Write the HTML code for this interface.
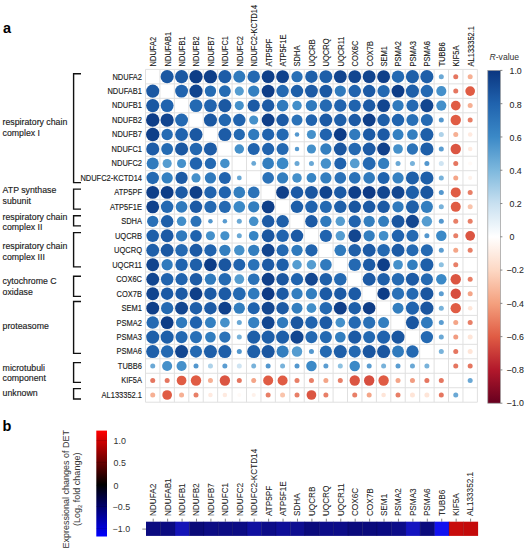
<!DOCTYPE html><html><head><meta charset="utf-8"><style>html,body{margin:0;padding:0;background:#fff;}svg{display:block;}text{font-family:"Liberation Sans", sans-serif;}</style></head><body>
<svg width="527" height="550" viewBox="0 0 527 550">
<rect width="527" height="550" fill="#fff"/>
<text x="3" y="32.5" font-size="14.5" font-weight="bold" fill="#000">a</text>
<g font-size="7.5" fill="#1a1a1a" stroke="#1a1a1a" stroke-width="0.1">
<text transform="translate(156.12,66.4) rotate(-90) scale(1,1.1)">NDUFA2</text>
<text transform="translate(170.55,66.4) rotate(-90) scale(1,1.1)">NDUFAB1</text>
<text transform="translate(184.97,66.4) rotate(-90) scale(1,1.1)">NDUFB1</text>
<text transform="translate(199.41,66.4) rotate(-90) scale(1,1.1)">NDUFB2</text>
<text transform="translate(213.84,66.4) rotate(-90) scale(1,1.1)">NDUFB7</text>
<text transform="translate(228.27,66.4) rotate(-90) scale(1,1.1)">NDUFC1</text>
<text transform="translate(242.70,66.4) rotate(-90) scale(1,1.1)">NDUFC2</text>
<text transform="translate(257.12,66.4) rotate(-90) scale(1,1.1)">NDUFC2-KCTD14</text>
<text transform="translate(271.55,66.4) rotate(-90) scale(1,1.1)">ATP5PF</text>
<text transform="translate(285.99,66.4) rotate(-90) scale(1,1.1)">ATP5F1E</text>
<text transform="translate(300.41,66.4) rotate(-90) scale(1,1.1)">SDHA</text>
<text transform="translate(314.84,66.4) rotate(-90) scale(1,1.1)">UQCRB</text>
<text transform="translate(329.27,66.4) rotate(-90) scale(1,1.1)">UQCRQ</text>
<text transform="translate(343.70,66.4) rotate(-90) scale(1,1.1)">UQCR11</text>
<text transform="translate(358.13,66.4) rotate(-90) scale(1,1.1)">COX6C</text>
<text transform="translate(372.56,66.4) rotate(-90) scale(1,1.1)">COX7B</text>
<text transform="translate(387.00,66.4) rotate(-90) scale(1,1.1)">SEM1</text>
<text transform="translate(401.42,66.4) rotate(-90) scale(1,1.1)">PSMA2</text>
<text transform="translate(415.85,66.4) rotate(-90) scale(1,1.1)">PSMA3</text>
<text transform="translate(430.28,66.4) rotate(-90) scale(1,1.1)">PSMA6</text>
<text transform="translate(444.71,66.4) rotate(-90) scale(1,1.1)">TUBB6</text>
<text transform="translate(459.14,66.4) rotate(-90) scale(1,1.1)">KIF5A</text>
<text transform="translate(473.57,66.4) rotate(-90) scale(1,1.1)">AL133352.1</text>
</g>
<g font-size="7.5" fill="#1a1a1a" stroke="#1a1a1a" stroke-width="0.12" text-anchor="end">
<text transform="translate(142,79.54) scale(1,1.1)">NDUFA2</text>
<text transform="translate(142,94.01) scale(1,1.1)">NDUFAB1</text>
<text transform="translate(142,108.48) scale(1,1.1)">NDUFB1</text>
<text transform="translate(142,122.95) scale(1,1.1)">NDUFB2</text>
<text transform="translate(142,137.42) scale(1,1.1)">NDUFB7</text>
<text transform="translate(142,151.89) scale(1,1.1)">NDUFC1</text>
<text transform="translate(142,166.36) scale(1,1.1)">NDUFC2</text>
<text transform="translate(142,180.83) scale(1,1.1)">NDUFC2-KCTD14</text>
<text transform="translate(142,195.30) scale(1,1.1)">ATP5PF</text>
<text transform="translate(142,209.77) scale(1,1.1)">ATP5F1E</text>
<text transform="translate(142,224.24) scale(1,1.1)">SDHA</text>
<text transform="translate(142,238.71) scale(1,1.1)">UQCRB</text>
<text transform="translate(142,253.18) scale(1,1.1)">UQCRQ</text>
<text transform="translate(142,267.64) scale(1,1.1)">UQCR11</text>
<text transform="translate(142,282.12) scale(1,1.1)">COX6C</text>
<text transform="translate(142,296.58) scale(1,1.1)">COX7B</text>
<text transform="translate(142,311.06) scale(1,1.1)">SEM1</text>
<text transform="translate(142,325.52) scale(1,1.1)">PSMA2</text>
<text transform="translate(142,340.00) scale(1,1.1)">PSMA3</text>
<text transform="translate(142,354.47) scale(1,1.1)">PSMA6</text>
<text transform="translate(142,368.93) scale(1,1.1)">TUBB6</text>
<text transform="translate(142,383.40) scale(1,1.1)">KIF5A</text>
<text transform="translate(142,397.88) scale(1,1.1)">AL133352.1</text>
</g>
<g stroke="#e0e0e0" stroke-width="1">
<line x1="145.50" y1="69.40" x2="145.50" y2="402.21"/>
<line x1="145.50" y1="69.40" x2="477.39" y2="69.40"/>
<line x1="159.93" y1="69.40" x2="159.93" y2="402.21"/>
<line x1="145.50" y1="83.87" x2="477.39" y2="83.87"/>
<line x1="174.36" y1="69.40" x2="174.36" y2="402.21"/>
<line x1="145.50" y1="98.34" x2="477.39" y2="98.34"/>
<line x1="188.79" y1="69.40" x2="188.79" y2="402.21"/>
<line x1="145.50" y1="112.81" x2="477.39" y2="112.81"/>
<line x1="203.22" y1="69.40" x2="203.22" y2="402.21"/>
<line x1="145.50" y1="127.28" x2="477.39" y2="127.28"/>
<line x1="217.65" y1="69.40" x2="217.65" y2="402.21"/>
<line x1="145.50" y1="141.75" x2="477.39" y2="141.75"/>
<line x1="232.08" y1="69.40" x2="232.08" y2="402.21"/>
<line x1="145.50" y1="156.22" x2="477.39" y2="156.22"/>
<line x1="246.51" y1="69.40" x2="246.51" y2="402.21"/>
<line x1="145.50" y1="170.69" x2="477.39" y2="170.69"/>
<line x1="260.94" y1="69.40" x2="260.94" y2="402.21"/>
<line x1="145.50" y1="185.16" x2="477.39" y2="185.16"/>
<line x1="275.37" y1="69.40" x2="275.37" y2="402.21"/>
<line x1="145.50" y1="199.63" x2="477.39" y2="199.63"/>
<line x1="289.80" y1="69.40" x2="289.80" y2="402.21"/>
<line x1="145.50" y1="214.10" x2="477.39" y2="214.10"/>
<line x1="304.23" y1="69.40" x2="304.23" y2="402.21"/>
<line x1="145.50" y1="228.57" x2="477.39" y2="228.57"/>
<line x1="318.66" y1="69.40" x2="318.66" y2="402.21"/>
<line x1="145.50" y1="243.04" x2="477.39" y2="243.04"/>
<line x1="333.09" y1="69.40" x2="333.09" y2="402.21"/>
<line x1="145.50" y1="257.51" x2="477.39" y2="257.51"/>
<line x1="347.52" y1="69.40" x2="347.52" y2="402.21"/>
<line x1="145.50" y1="271.98" x2="477.39" y2="271.98"/>
<line x1="361.95" y1="69.40" x2="361.95" y2="402.21"/>
<line x1="145.50" y1="286.45" x2="477.39" y2="286.45"/>
<line x1="376.38" y1="69.40" x2="376.38" y2="402.21"/>
<line x1="145.50" y1="300.92" x2="477.39" y2="300.92"/>
<line x1="390.81" y1="69.40" x2="390.81" y2="402.21"/>
<line x1="145.50" y1="315.39" x2="477.39" y2="315.39"/>
<line x1="405.24" y1="69.40" x2="405.24" y2="402.21"/>
<line x1="145.50" y1="329.86" x2="477.39" y2="329.86"/>
<line x1="419.67" y1="69.40" x2="419.67" y2="402.21"/>
<line x1="145.50" y1="344.33" x2="477.39" y2="344.33"/>
<line x1="434.10" y1="69.40" x2="434.10" y2="402.21"/>
<line x1="145.50" y1="358.80" x2="477.39" y2="358.80"/>
<line x1="448.53" y1="69.40" x2="448.53" y2="402.21"/>
<line x1="145.50" y1="373.27" x2="477.39" y2="373.27"/>
<line x1="462.96" y1="69.40" x2="462.96" y2="402.21"/>
<line x1="145.50" y1="387.74" x2="477.39" y2="387.74"/>
<line x1="477.39" y1="69.40" x2="477.39" y2="402.21"/>
<line x1="145.50" y1="402.21" x2="477.39" y2="402.21"/>
</g>
<g>
<circle cx="167.15" cy="76.64" r="6.55" fill="#1b58a2"/>
<circle cx="181.57" cy="76.64" r="6.55" fill="#1b58a2"/>
<circle cx="196.00" cy="76.64" r="6.70" fill="#0e3d87"/>
<circle cx="210.44" cy="76.64" r="6.70" fill="#0f3f89"/>
<circle cx="224.87" cy="76.64" r="6.55" fill="#1d5ca7"/>
<circle cx="239.30" cy="76.64" r="6.03" fill="#307abd"/>
<circle cx="253.72" cy="76.64" r="6.25" fill="#2469b2"/>
<circle cx="268.15" cy="76.64" r="6.44" fill="#0f3f89"/>
<circle cx="282.59" cy="76.64" r="6.44" fill="#10418c"/>
<circle cx="297.01" cy="76.64" r="5.65" fill="#2970b7"/>
<circle cx="311.44" cy="76.64" r="6.25" fill="#1e5fa9"/>
<circle cx="325.88" cy="76.64" r="6.44" fill="#1e5fa9"/>
<circle cx="340.31" cy="76.64" r="6.44" fill="#11448e"/>
<circle cx="354.74" cy="76.64" r="6.44" fill="#124690"/>
<circle cx="369.16" cy="76.64" r="6.44" fill="#11448e"/>
<circle cx="383.60" cy="76.64" r="6.44" fill="#0f3f89"/>
<circle cx="398.02" cy="76.64" r="6.25" fill="#2469b2"/>
<circle cx="412.45" cy="76.64" r="6.55" fill="#1e5fa9"/>
<circle cx="426.88" cy="76.64" r="6.55" fill="#1e5fa9"/>
<circle cx="441.31" cy="76.64" r="2.50" fill="#6aa8d5"/>
<circle cx="455.75" cy="76.64" r="2.50" fill="#e57660"/>
<circle cx="470.18" cy="76.64" r="2.50" fill="#f6b094"/>
<circle cx="152.72" cy="91.11" r="6.55" fill="#1b58a2"/>
<circle cx="181.57" cy="91.11" r="6.44" fill="#2063ae"/>
<circle cx="196.00" cy="91.11" r="6.62" fill="#11448e"/>
<circle cx="210.44" cy="91.11" r="5.69" fill="#256bb3"/>
<circle cx="224.87" cy="91.11" r="5.95" fill="#256bb3"/>
<circle cx="239.30" cy="91.11" r="4.56" fill="#559cd0"/>
<circle cx="253.72" cy="91.11" r="5.65" fill="#3480c1"/>
<circle cx="268.15" cy="91.11" r="6.44" fill="#0e3d87"/>
<circle cx="282.59" cy="91.11" r="6.25" fill="#2469b2"/>
<circle cx="297.01" cy="91.11" r="6.25" fill="#1e5fa9"/>
<circle cx="311.44" cy="91.11" r="6.44" fill="#1c5aa5"/>
<circle cx="325.88" cy="91.11" r="6.44" fill="#1b58a2"/>
<circle cx="340.31" cy="91.11" r="5.65" fill="#307abd"/>
<circle cx="354.74" cy="91.11" r="6.25" fill="#2063ae"/>
<circle cx="369.16" cy="91.11" r="6.25" fill="#1c5aa5"/>
<circle cx="383.60" cy="91.11" r="6.14" fill="#2469b2"/>
<circle cx="398.02" cy="91.11" r="6.44" fill="#0e3d87"/>
<circle cx="412.45" cy="91.11" r="6.55" fill="#1e5fa9"/>
<circle cx="426.88" cy="91.11" r="6.25" fill="#2469b2"/>
<circle cx="441.31" cy="91.11" r="5.05" fill="#4590ca"/>
<circle cx="455.75" cy="91.11" r="2.50" fill="#e57660"/>
<circle cx="470.18" cy="91.11" r="4.85" fill="#e05c44"/>
<circle cx="152.72" cy="105.58" r="6.55" fill="#1b58a2"/>
<circle cx="167.15" cy="105.58" r="6.44" fill="#2063ae"/>
<circle cx="196.00" cy="105.58" r="6.44" fill="#2469b2"/>
<circle cx="210.44" cy="105.58" r="6.44" fill="#2063ae"/>
<circle cx="224.87" cy="105.58" r="6.55" fill="#1b58a2"/>
<circle cx="239.30" cy="105.58" r="4.56" fill="#4590ca"/>
<circle cx="253.72" cy="105.58" r="6.14" fill="#1c5aa5"/>
<circle cx="268.15" cy="105.58" r="6.25" fill="#1c5aa5"/>
<circle cx="282.59" cy="105.58" r="5.84" fill="#307abd"/>
<circle cx="297.01" cy="105.58" r="4.75" fill="#428ec9"/>
<circle cx="311.44" cy="105.58" r="5.65" fill="#307abd"/>
<circle cx="325.88" cy="105.58" r="6.25" fill="#2469b2"/>
<circle cx="340.31" cy="105.58" r="6.25" fill="#2063ae"/>
<circle cx="354.74" cy="105.58" r="6.14" fill="#2063ae"/>
<circle cx="369.16" cy="105.58" r="6.25" fill="#1c5aa5"/>
<circle cx="383.60" cy="105.58" r="6.44" fill="#124690"/>
<circle cx="398.02" cy="105.58" r="5.65" fill="#307abd"/>
<circle cx="412.45" cy="105.58" r="6.06" fill="#2469b2"/>
<circle cx="426.88" cy="105.58" r="6.55" fill="#124690"/>
<circle cx="441.31" cy="105.58" r="5.05" fill="#4590ca"/>
<circle cx="455.75" cy="105.58" r="4.85" fill="#e05c44"/>
<circle cx="470.18" cy="105.58" r="2.50" fill="#f6b094"/>
<circle cx="152.72" cy="120.05" r="6.70" fill="#0e3d87"/>
<circle cx="167.15" cy="120.05" r="6.62" fill="#11448e"/>
<circle cx="181.57" cy="120.05" r="6.44" fill="#2469b2"/>
<circle cx="210.44" cy="120.05" r="6.55" fill="#1b58a2"/>
<circle cx="224.87" cy="120.05" r="6.25" fill="#2367b0"/>
<circle cx="239.30" cy="120.05" r="6.25" fill="#2063ae"/>
<circle cx="253.72" cy="120.05" r="4.56" fill="#4590ca"/>
<circle cx="268.15" cy="120.05" r="6.44" fill="#0f3f89"/>
<circle cx="282.59" cy="120.05" r="6.25" fill="#1c5aa5"/>
<circle cx="297.01" cy="120.05" r="5.50" fill="#2b72b8"/>
<circle cx="311.44" cy="120.05" r="5.84" fill="#2063ae"/>
<circle cx="325.88" cy="120.05" r="6.44" fill="#1c5aa5"/>
<circle cx="340.31" cy="120.05" r="6.25" fill="#1e5fa9"/>
<circle cx="354.74" cy="120.05" r="6.25" fill="#1c5aa5"/>
<circle cx="369.16" cy="120.05" r="6.44" fill="#0f3f89"/>
<circle cx="383.60" cy="120.05" r="6.25" fill="#1e5fa9"/>
<circle cx="398.02" cy="120.05" r="6.25" fill="#2063ae"/>
<circle cx="412.45" cy="120.05" r="6.06" fill="#2970b7"/>
<circle cx="426.88" cy="120.05" r="6.06" fill="#2469b2"/>
<circle cx="441.31" cy="120.05" r="2.50" fill="#5397ce"/>
<circle cx="455.75" cy="120.05" r="5.20" fill="#e05c44"/>
<circle cx="470.18" cy="120.05" r="2.50" fill="#e87f67"/>
<circle cx="152.72" cy="134.52" r="6.70" fill="#0f3f89"/>
<circle cx="167.15" cy="134.52" r="5.69" fill="#256bb3"/>
<circle cx="181.57" cy="134.52" r="6.44" fill="#2063ae"/>
<circle cx="196.00" cy="134.52" r="6.55" fill="#1b58a2"/>
<circle cx="224.87" cy="134.52" r="6.55" fill="#1d5ca7"/>
<circle cx="239.30" cy="134.52" r="5.65" fill="#2469b2"/>
<circle cx="253.72" cy="134.52" r="5.65" fill="#307abd"/>
<circle cx="268.15" cy="134.52" r="6.14" fill="#2063ae"/>
<circle cx="282.59" cy="134.52" r="6.14" fill="#2469b2"/>
<circle cx="297.01" cy="134.52" r="2.27" fill="#5397ce"/>
<circle cx="311.44" cy="134.52" r="4.56" fill="#4590ca"/>
<circle cx="325.88" cy="134.52" r="6.14" fill="#2063ae"/>
<circle cx="340.31" cy="134.52" r="6.44" fill="#0e3d87"/>
<circle cx="354.74" cy="134.52" r="5.65" fill="#307abd"/>
<circle cx="369.16" cy="134.52" r="6.25" fill="#1c5aa5"/>
<circle cx="383.60" cy="134.52" r="6.25" fill="#1c5aa5"/>
<circle cx="398.02" cy="134.52" r="5.50" fill="#3480c1"/>
<circle cx="412.45" cy="134.52" r="5.35" fill="#337ebf"/>
<circle cx="426.88" cy="134.52" r="6.55" fill="#1e5fa9"/>
<circle cx="441.31" cy="134.52" r="2.50" fill="#aed2e9"/>
<circle cx="455.75" cy="134.52" r="2.50" fill="#f6b094"/>
<circle cx="470.18" cy="134.52" r="2.27" fill="#feeae0"/>
<circle cx="152.72" cy="148.99" r="6.55" fill="#1d5ca7"/>
<circle cx="167.15" cy="148.99" r="5.95" fill="#256bb3"/>
<circle cx="181.57" cy="148.99" r="6.55" fill="#1b58a2"/>
<circle cx="196.00" cy="148.99" r="6.25" fill="#2367b0"/>
<circle cx="210.44" cy="148.99" r="6.55" fill="#1d5ca7"/>
<circle cx="239.30" cy="148.99" r="4.75" fill="#4590ca"/>
<circle cx="253.72" cy="148.99" r="6.03" fill="#2063ae"/>
<circle cx="268.15" cy="148.99" r="6.14" fill="#2063ae"/>
<circle cx="282.59" cy="148.99" r="6.03" fill="#2469b2"/>
<circle cx="297.01" cy="148.99" r="2.27" fill="#589bd0"/>
<circle cx="311.44" cy="148.99" r="4.56" fill="#4590ca"/>
<circle cx="325.88" cy="148.99" r="5.65" fill="#337ebf"/>
<circle cx="340.31" cy="148.99" r="6.44" fill="#1a56a0"/>
<circle cx="354.74" cy="148.99" r="6.25" fill="#2469b2"/>
<circle cx="369.16" cy="148.99" r="6.44" fill="#1c5aa5"/>
<circle cx="383.60" cy="148.99" r="6.44" fill="#10418c"/>
<circle cx="398.02" cy="148.99" r="4.86" fill="#4590ca"/>
<circle cx="412.45" cy="148.99" r="5.65" fill="#2b72b8"/>
<circle cx="426.88" cy="148.99" r="6.55" fill="#1e5fa9"/>
<circle cx="441.31" cy="148.99" r="2.50" fill="#5b9dd1"/>
<circle cx="455.75" cy="148.99" r="5.20" fill="#db5542"/>
<circle cx="470.18" cy="148.99" r="2.27" fill="#feeae0"/>
<circle cx="152.72" cy="163.46" r="6.03" fill="#307abd"/>
<circle cx="167.15" cy="163.46" r="4.56" fill="#559cd0"/>
<circle cx="181.57" cy="163.46" r="4.56" fill="#4590ca"/>
<circle cx="196.00" cy="163.46" r="6.25" fill="#2063ae"/>
<circle cx="210.44" cy="163.46" r="5.65" fill="#2469b2"/>
<circle cx="224.87" cy="163.46" r="4.75" fill="#4590ca"/>
<circle cx="253.72" cy="163.46" r="2.41" fill="#6aa8d5"/>
<circle cx="268.15" cy="163.46" r="5.84" fill="#337ebf"/>
<circle cx="282.59" cy="163.46" r="5.84" fill="#3b89c7"/>
<circle cx="297.01" cy="163.46" r="2.50" fill="#6aa8d5"/>
<circle cx="311.44" cy="163.46" r="2.50" fill="#6aa8d5"/>
<circle cx="325.88" cy="163.46" r="5.20" fill="#4590ca"/>
<circle cx="340.31" cy="163.46" r="6.03" fill="#2063ae"/>
<circle cx="354.74" cy="163.46" r="4.86" fill="#559cd0"/>
<circle cx="369.16" cy="163.46" r="6.44" fill="#2469b2"/>
<circle cx="383.60" cy="163.46" r="5.65" fill="#337ebf"/>
<circle cx="398.02" cy="163.46" r="2.50" fill="#6aa8d5"/>
<circle cx="412.45" cy="163.46" r="2.50" fill="#78b2da"/>
<circle cx="426.88" cy="163.46" r="2.50" fill="#5397ce"/>
<circle cx="441.31" cy="163.46" r="2.50" fill="#cfe4f2"/>
<circle cx="455.75" cy="163.46" r="2.50" fill="#e57660"/>
<circle cx="470.18" cy="163.46" r="2.08" fill="#fffaf7"/>
<circle cx="152.72" cy="177.93" r="6.25" fill="#2469b2"/>
<circle cx="167.15" cy="177.93" r="5.65" fill="#3480c1"/>
<circle cx="181.57" cy="177.93" r="6.14" fill="#1c5aa5"/>
<circle cx="196.00" cy="177.93" r="4.56" fill="#4590ca"/>
<circle cx="210.44" cy="177.93" r="5.65" fill="#307abd"/>
<circle cx="224.87" cy="177.93" r="6.03" fill="#2063ae"/>
<circle cx="239.30" cy="177.93" r="2.41" fill="#6aa8d5"/>
<circle cx="268.15" cy="177.93" r="5.84" fill="#2b72b8"/>
<circle cx="282.59" cy="177.93" r="5.65" fill="#337ebf"/>
<circle cx="297.01" cy="177.93" r="4.75" fill="#4590ca"/>
<circle cx="311.44" cy="177.93" r="4.86" fill="#3885c4"/>
<circle cx="325.88" cy="177.93" r="5.65" fill="#337ebf"/>
<circle cx="340.31" cy="177.93" r="5.84" fill="#2b72b8"/>
<circle cx="354.74" cy="177.93" r="5.84" fill="#2b72b8"/>
<circle cx="369.16" cy="177.93" r="5.84" fill="#307abd"/>
<circle cx="383.60" cy="177.93" r="6.03" fill="#2063ae"/>
<circle cx="398.02" cy="177.93" r="5.65" fill="#3681c2"/>
<circle cx="412.45" cy="177.93" r="6.55" fill="#1e5fa9"/>
<circle cx="426.88" cy="177.93" r="6.55" fill="#1e5fa9"/>
<circle cx="441.31" cy="177.93" r="2.50" fill="#78b2da"/>
<circle cx="455.75" cy="177.93" r="2.50" fill="#f4a588"/>
<circle cx="470.18" cy="177.93" r="2.08" fill="#fef1ea"/>
<circle cx="152.72" cy="192.40" r="6.44" fill="#0f3f89"/>
<circle cx="167.15" cy="192.40" r="6.44" fill="#0e3d87"/>
<circle cx="181.57" cy="192.40" r="6.25" fill="#1c5aa5"/>
<circle cx="196.00" cy="192.40" r="6.44" fill="#0f3f89"/>
<circle cx="210.44" cy="192.40" r="6.14" fill="#2063ae"/>
<circle cx="224.87" cy="192.40" r="6.14" fill="#2063ae"/>
<circle cx="239.30" cy="192.40" r="5.84" fill="#337ebf"/>
<circle cx="253.72" cy="192.40" r="5.84" fill="#2b72b8"/>
<circle cx="282.59" cy="192.40" r="6.44" fill="#0f3f89"/>
<circle cx="297.01" cy="192.40" r="6.25" fill="#1c5aa5"/>
<circle cx="311.44" cy="192.40" r="6.44" fill="#1a56a0"/>
<circle cx="325.88" cy="192.40" r="6.44" fill="#11448e"/>
<circle cx="340.31" cy="192.40" r="6.25" fill="#1c5aa5"/>
<circle cx="354.74" cy="192.40" r="6.44" fill="#0f3f89"/>
<circle cx="369.16" cy="192.40" r="6.44" fill="#0d3a85"/>
<circle cx="383.60" cy="192.40" r="6.44" fill="#124690"/>
<circle cx="398.02" cy="192.40" r="6.44" fill="#124690"/>
<circle cx="412.45" cy="192.40" r="6.55" fill="#1e5fa9"/>
<circle cx="426.88" cy="192.40" r="6.55" fill="#1a56a0"/>
<circle cx="441.31" cy="192.40" r="2.50" fill="#5397ce"/>
<circle cx="455.75" cy="192.40" r="5.00" fill="#e05c44"/>
<circle cx="470.18" cy="192.40" r="2.50" fill="#e87f67"/>
<circle cx="152.72" cy="206.87" r="6.44" fill="#10418c"/>
<circle cx="167.15" cy="206.87" r="6.25" fill="#2469b2"/>
<circle cx="181.57" cy="206.87" r="5.84" fill="#307abd"/>
<circle cx="196.00" cy="206.87" r="6.25" fill="#1c5aa5"/>
<circle cx="210.44" cy="206.87" r="6.14" fill="#2469b2"/>
<circle cx="224.87" cy="206.87" r="6.03" fill="#2469b2"/>
<circle cx="239.30" cy="206.87" r="5.84" fill="#3b89c7"/>
<circle cx="253.72" cy="206.87" r="5.65" fill="#337ebf"/>
<circle cx="268.15" cy="206.87" r="6.44" fill="#0f3f89"/>
<circle cx="297.01" cy="206.87" r="6.25" fill="#1e5fa9"/>
<circle cx="311.44" cy="206.87" r="6.25" fill="#2063ae"/>
<circle cx="325.88" cy="206.87" r="6.03" fill="#2469b2"/>
<circle cx="340.31" cy="206.87" r="6.25" fill="#1e5fa9"/>
<circle cx="354.74" cy="206.87" r="6.25" fill="#1a56a0"/>
<circle cx="369.16" cy="206.87" r="6.25" fill="#1c5aa5"/>
<circle cx="383.60" cy="206.87" r="6.25" fill="#1c5aa5"/>
<circle cx="398.02" cy="206.87" r="5.65" fill="#307abd"/>
<circle cx="412.45" cy="206.87" r="6.55" fill="#1e5fa9"/>
<circle cx="426.88" cy="206.87" r="6.06" fill="#337ebf"/>
<circle cx="441.31" cy="206.87" r="2.50" fill="#78b2da"/>
<circle cx="455.75" cy="206.87" r="5.00" fill="#e05c44"/>
<circle cx="470.18" cy="206.87" r="2.50" fill="#f9c4ac"/>
<circle cx="152.72" cy="221.34" r="5.65" fill="#2970b7"/>
<circle cx="167.15" cy="221.34" r="6.25" fill="#1e5fa9"/>
<circle cx="181.57" cy="221.34" r="4.75" fill="#428ec9"/>
<circle cx="196.00" cy="221.34" r="5.50" fill="#2b72b8"/>
<circle cx="210.44" cy="221.34" r="2.27" fill="#5397ce"/>
<circle cx="224.87" cy="221.34" r="2.27" fill="#589bd0"/>
<circle cx="239.30" cy="221.34" r="2.50" fill="#6aa8d5"/>
<circle cx="253.72" cy="221.34" r="4.75" fill="#4590ca"/>
<circle cx="268.15" cy="221.34" r="6.25" fill="#1c5aa5"/>
<circle cx="282.59" cy="221.34" r="6.25" fill="#1e5fa9"/>
<circle cx="311.44" cy="221.34" r="6.25" fill="#1c5aa5"/>
<circle cx="325.88" cy="221.34" r="5.65" fill="#307abd"/>
<circle cx="340.31" cy="221.34" r="4.75" fill="#559cd0"/>
<circle cx="354.74" cy="221.34" r="6.14" fill="#2063ae"/>
<circle cx="369.16" cy="221.34" r="5.65" fill="#337ebf"/>
<circle cx="383.60" cy="221.34" r="5.50" fill="#337ebf"/>
<circle cx="398.02" cy="221.34" r="6.44" fill="#1a56a0"/>
<circle cx="412.45" cy="221.34" r="6.55" fill="#124690"/>
<circle cx="426.88" cy="221.34" r="5.24" fill="#559cd0"/>
<circle cx="441.31" cy="221.34" r="2.50" fill="#5397ce"/>
<circle cx="455.75" cy="221.34" r="2.50" fill="#e87f67"/>
<circle cx="470.18" cy="221.34" r="2.50" fill="#e87f67"/>
<circle cx="152.72" cy="235.81" r="6.25" fill="#1e5fa9"/>
<circle cx="167.15" cy="235.81" r="6.44" fill="#1c5aa5"/>
<circle cx="181.57" cy="235.81" r="5.65" fill="#307abd"/>
<circle cx="196.00" cy="235.81" r="5.84" fill="#2063ae"/>
<circle cx="210.44" cy="235.81" r="4.56" fill="#4590ca"/>
<circle cx="224.87" cy="235.81" r="4.56" fill="#4590ca"/>
<circle cx="239.30" cy="235.81" r="2.50" fill="#6aa8d5"/>
<circle cx="253.72" cy="235.81" r="4.86" fill="#3885c4"/>
<circle cx="268.15" cy="235.81" r="6.44" fill="#1a56a0"/>
<circle cx="282.59" cy="235.81" r="6.25" fill="#2063ae"/>
<circle cx="297.01" cy="235.81" r="6.25" fill="#1c5aa5"/>
<circle cx="325.88" cy="235.81" r="6.14" fill="#2063ae"/>
<circle cx="340.31" cy="235.81" r="4.75" fill="#559cd0"/>
<circle cx="354.74" cy="235.81" r="6.44" fill="#124690"/>
<circle cx="369.16" cy="235.81" r="5.65" fill="#337ebf"/>
<circle cx="383.60" cy="235.81" r="4.86" fill="#428ec9"/>
<circle cx="398.02" cy="235.81" r="6.25" fill="#2063ae"/>
<circle cx="412.45" cy="235.81" r="6.06" fill="#2469b2"/>
<circle cx="426.88" cy="235.81" r="2.50" fill="#5397ce"/>
<circle cx="441.31" cy="235.81" r="5.24" fill="#3b89c7"/>
<circle cx="455.75" cy="235.81" r="2.50" fill="#e87f67"/>
<circle cx="470.18" cy="235.81" r="4.85" fill="#db5542"/>
<circle cx="152.72" cy="250.28" r="6.44" fill="#1e5fa9"/>
<circle cx="167.15" cy="250.28" r="6.44" fill="#1b58a2"/>
<circle cx="181.57" cy="250.28" r="6.25" fill="#2469b2"/>
<circle cx="196.00" cy="250.28" r="6.44" fill="#1c5aa5"/>
<circle cx="210.44" cy="250.28" r="6.14" fill="#2063ae"/>
<circle cx="224.87" cy="250.28" r="5.65" fill="#337ebf"/>
<circle cx="239.30" cy="250.28" r="5.20" fill="#4590ca"/>
<circle cx="253.72" cy="250.28" r="5.65" fill="#337ebf"/>
<circle cx="268.15" cy="250.28" r="6.44" fill="#11448e"/>
<circle cx="282.59" cy="250.28" r="6.03" fill="#2469b2"/>
<circle cx="297.01" cy="250.28" r="5.65" fill="#307abd"/>
<circle cx="311.44" cy="250.28" r="6.14" fill="#2063ae"/>
<circle cx="340.31" cy="250.28" r="5.84" fill="#307abd"/>
<circle cx="354.74" cy="250.28" r="6.25" fill="#1e5fa9"/>
<circle cx="369.16" cy="250.28" r="6.44" fill="#1c5aa5"/>
<circle cx="383.60" cy="250.28" r="6.25" fill="#2469b2"/>
<circle cx="398.02" cy="250.28" r="6.44" fill="#1c5aa5"/>
<circle cx="412.45" cy="250.28" r="6.06" fill="#2469b2"/>
<circle cx="426.88" cy="250.28" r="6.06" fill="#2469b2"/>
<circle cx="441.31" cy="250.28" r="2.50" fill="#5b9dd1"/>
<circle cx="455.75" cy="250.28" r="2.50" fill="#f4a588"/>
<circle cx="470.18" cy="250.28" r="2.50" fill="#e87f67"/>
<circle cx="152.72" cy="264.75" r="6.44" fill="#11448e"/>
<circle cx="167.15" cy="264.75" r="5.65" fill="#307abd"/>
<circle cx="181.57" cy="264.75" r="6.25" fill="#2063ae"/>
<circle cx="196.00" cy="264.75" r="6.25" fill="#1e5fa9"/>
<circle cx="210.44" cy="264.75" r="6.44" fill="#0e3d87"/>
<circle cx="224.87" cy="264.75" r="6.44" fill="#1a56a0"/>
<circle cx="239.30" cy="264.75" r="6.03" fill="#2063ae"/>
<circle cx="253.72" cy="264.75" r="5.84" fill="#2b72b8"/>
<circle cx="268.15" cy="264.75" r="6.25" fill="#1c5aa5"/>
<circle cx="282.59" cy="264.75" r="6.25" fill="#1e5fa9"/>
<circle cx="297.01" cy="264.75" r="4.75" fill="#559cd0"/>
<circle cx="311.44" cy="264.75" r="4.75" fill="#559cd0"/>
<circle cx="325.88" cy="264.75" r="5.84" fill="#307abd"/>
<circle cx="354.74" cy="264.75" r="6.25" fill="#2469b2"/>
<circle cx="369.16" cy="264.75" r="6.25" fill="#1c5aa5"/>
<circle cx="383.60" cy="264.75" r="6.44" fill="#0f3f89"/>
<circle cx="398.02" cy="264.75" r="4.86" fill="#4590ca"/>
<circle cx="412.45" cy="264.75" r="5.35" fill="#337ebf"/>
<circle cx="426.88" cy="264.75" r="6.55" fill="#1e5fa9"/>
<circle cx="441.31" cy="264.75" r="2.50" fill="#8dc1e1"/>
<circle cx="455.75" cy="264.75" r="2.50" fill="#e87f67"/>
<circle cx="152.72" cy="279.22" r="6.44" fill="#124690"/>
<circle cx="167.15" cy="279.22" r="6.25" fill="#2063ae"/>
<circle cx="181.57" cy="279.22" r="6.14" fill="#2063ae"/>
<circle cx="196.00" cy="279.22" r="6.25" fill="#1c5aa5"/>
<circle cx="210.44" cy="279.22" r="5.65" fill="#307abd"/>
<circle cx="224.87" cy="279.22" r="6.25" fill="#2469b2"/>
<circle cx="239.30" cy="279.22" r="4.86" fill="#559cd0"/>
<circle cx="253.72" cy="279.22" r="5.84" fill="#2b72b8"/>
<circle cx="268.15" cy="279.22" r="6.44" fill="#0f3f89"/>
<circle cx="282.59" cy="279.22" r="6.25" fill="#1a56a0"/>
<circle cx="297.01" cy="279.22" r="6.14" fill="#2063ae"/>
<circle cx="311.44" cy="279.22" r="6.44" fill="#124690"/>
<circle cx="325.88" cy="279.22" r="6.25" fill="#1e5fa9"/>
<circle cx="340.31" cy="279.22" r="6.25" fill="#2469b2"/>
<circle cx="369.16" cy="279.22" r="6.44" fill="#1c5aa5"/>
<circle cx="383.60" cy="279.22" r="6.25" fill="#1e5fa9"/>
<circle cx="398.02" cy="279.22" r="6.25" fill="#2469b2"/>
<circle cx="412.45" cy="279.22" r="6.55" fill="#1c5aa5"/>
<circle cx="426.88" cy="279.22" r="6.06" fill="#2469b2"/>
<circle cx="441.31" cy="279.22" r="5.24" fill="#3b89c7"/>
<circle cx="455.75" cy="279.22" r="5.20" fill="#db5542"/>
<circle cx="470.18" cy="279.22" r="2.50" fill="#e87f67"/>
<circle cx="152.72" cy="293.69" r="6.44" fill="#11448e"/>
<circle cx="167.15" cy="293.69" r="6.25" fill="#1c5aa5"/>
<circle cx="181.57" cy="293.69" r="6.25" fill="#1c5aa5"/>
<circle cx="196.00" cy="293.69" r="6.44" fill="#0f3f89"/>
<circle cx="210.44" cy="293.69" r="6.25" fill="#1c5aa5"/>
<circle cx="224.87" cy="293.69" r="6.44" fill="#1c5aa5"/>
<circle cx="239.30" cy="293.69" r="6.44" fill="#2469b2"/>
<circle cx="253.72" cy="293.69" r="5.84" fill="#307abd"/>
<circle cx="268.15" cy="293.69" r="6.44" fill="#0d3a85"/>
<circle cx="282.59" cy="293.69" r="6.25" fill="#1c5aa5"/>
<circle cx="297.01" cy="293.69" r="5.65" fill="#337ebf"/>
<circle cx="311.44" cy="293.69" r="5.65" fill="#337ebf"/>
<circle cx="325.88" cy="293.69" r="6.44" fill="#1c5aa5"/>
<circle cx="340.31" cy="293.69" r="6.25" fill="#1c5aa5"/>
<circle cx="354.74" cy="293.69" r="6.44" fill="#1c5aa5"/>
<circle cx="383.60" cy="293.69" r="6.25" fill="#0e3d87"/>
<circle cx="398.02" cy="293.69" r="6.14" fill="#2970b7"/>
<circle cx="412.45" cy="293.69" r="6.06" fill="#2469b2"/>
<circle cx="426.88" cy="293.69" r="6.55" fill="#1a56a0"/>
<circle cx="441.31" cy="293.69" r="2.50" fill="#5b9dd1"/>
<circle cx="455.75" cy="293.69" r="5.20" fill="#d74e3f"/>
<circle cx="470.18" cy="293.69" r="2.50" fill="#f4a588"/>
<circle cx="152.72" cy="308.16" r="6.44" fill="#0f3f89"/>
<circle cx="167.15" cy="308.16" r="6.14" fill="#2469b2"/>
<circle cx="181.57" cy="308.16" r="6.44" fill="#124690"/>
<circle cx="196.00" cy="308.16" r="6.25" fill="#1e5fa9"/>
<circle cx="210.44" cy="308.16" r="6.25" fill="#1c5aa5"/>
<circle cx="224.87" cy="308.16" r="6.44" fill="#10418c"/>
<circle cx="239.30" cy="308.16" r="5.65" fill="#337ebf"/>
<circle cx="253.72" cy="308.16" r="6.03" fill="#2063ae"/>
<circle cx="268.15" cy="308.16" r="6.44" fill="#124690"/>
<circle cx="282.59" cy="308.16" r="6.25" fill="#1c5aa5"/>
<circle cx="297.01" cy="308.16" r="5.50" fill="#337ebf"/>
<circle cx="311.44" cy="308.16" r="4.86" fill="#428ec9"/>
<circle cx="325.88" cy="308.16" r="6.25" fill="#2469b2"/>
<circle cx="340.31" cy="308.16" r="6.44" fill="#0f3f89"/>
<circle cx="354.74" cy="308.16" r="6.25" fill="#1e5fa9"/>
<circle cx="369.16" cy="308.16" r="6.25" fill="#0e3d87"/>
<circle cx="398.02" cy="308.16" r="5.50" fill="#337ebf"/>
<circle cx="412.45" cy="308.16" r="6.55" fill="#2063ae"/>
<circle cx="426.88" cy="308.16" r="6.55" fill="#1a56a0"/>
<circle cx="441.31" cy="308.16" r="2.50" fill="#78b2da"/>
<circle cx="455.75" cy="308.16" r="5.20" fill="#e05c44"/>
<circle cx="470.18" cy="308.16" r="2.27" fill="#fee5d8"/>
<circle cx="152.72" cy="322.62" r="6.25" fill="#2469b2"/>
<circle cx="167.15" cy="322.62" r="6.44" fill="#0e3d87"/>
<circle cx="181.57" cy="322.62" r="5.65" fill="#307abd"/>
<circle cx="196.00" cy="322.62" r="6.25" fill="#2063ae"/>
<circle cx="210.44" cy="322.62" r="5.50" fill="#3480c1"/>
<circle cx="224.87" cy="322.62" r="4.86" fill="#4590ca"/>
<circle cx="239.30" cy="322.62" r="2.50" fill="#6aa8d5"/>
<circle cx="253.72" cy="322.62" r="5.65" fill="#3681c2"/>
<circle cx="268.15" cy="322.62" r="6.44" fill="#124690"/>
<circle cx="282.59" cy="322.62" r="5.65" fill="#307abd"/>
<circle cx="297.01" cy="322.62" r="6.44" fill="#1a56a0"/>
<circle cx="311.44" cy="322.62" r="6.25" fill="#2063ae"/>
<circle cx="325.88" cy="322.62" r="6.44" fill="#1c5aa5"/>
<circle cx="340.31" cy="322.62" r="4.86" fill="#4590ca"/>
<circle cx="354.74" cy="322.62" r="6.25" fill="#2469b2"/>
<circle cx="369.16" cy="322.62" r="6.14" fill="#2970b7"/>
<circle cx="383.60" cy="322.62" r="5.50" fill="#337ebf"/>
<circle cx="412.45" cy="322.62" r="6.55" fill="#1a56a0"/>
<circle cx="426.88" cy="322.62" r="5.95" fill="#307abd"/>
<circle cx="441.31" cy="322.62" r="2.50" fill="#5b9dd1"/>
<circle cx="455.75" cy="322.62" r="2.50" fill="#f4a588"/>
<circle cx="470.18" cy="322.62" r="2.50" fill="#e87f67"/>
<circle cx="152.72" cy="337.10" r="6.55" fill="#1e5fa9"/>
<circle cx="167.15" cy="337.10" r="6.55" fill="#1e5fa9"/>
<circle cx="181.57" cy="337.10" r="6.06" fill="#2469b2"/>
<circle cx="196.00" cy="337.10" r="6.06" fill="#2970b7"/>
<circle cx="210.44" cy="337.10" r="5.35" fill="#337ebf"/>
<circle cx="224.87" cy="337.10" r="5.65" fill="#2b72b8"/>
<circle cx="239.30" cy="337.10" r="2.50" fill="#78b2da"/>
<circle cx="253.72" cy="337.10" r="6.55" fill="#1e5fa9"/>
<circle cx="268.15" cy="337.10" r="6.55" fill="#1e5fa9"/>
<circle cx="282.59" cy="337.10" r="6.55" fill="#1e5fa9"/>
<circle cx="297.01" cy="337.10" r="6.55" fill="#124690"/>
<circle cx="311.44" cy="337.10" r="6.06" fill="#2469b2"/>
<circle cx="325.88" cy="337.10" r="6.06" fill="#2469b2"/>
<circle cx="340.31" cy="337.10" r="5.35" fill="#337ebf"/>
<circle cx="354.74" cy="337.10" r="6.55" fill="#1c5aa5"/>
<circle cx="369.16" cy="337.10" r="6.06" fill="#2469b2"/>
<circle cx="383.60" cy="337.10" r="6.55" fill="#2063ae"/>
<circle cx="398.02" cy="337.10" r="6.55" fill="#1a56a0"/>
<circle cx="426.88" cy="337.10" r="6.21" fill="#2469b2"/>
<circle cx="441.31" cy="337.10" r="2.50" fill="#6aa8d5"/>
<circle cx="455.75" cy="337.10" r="2.50" fill="#f19c81"/>
<circle cx="470.18" cy="337.10" r="2.50" fill="#fee5d8"/>
<circle cx="152.72" cy="351.57" r="6.55" fill="#1e5fa9"/>
<circle cx="167.15" cy="351.57" r="6.25" fill="#2469b2"/>
<circle cx="181.57" cy="351.57" r="6.55" fill="#124690"/>
<circle cx="196.00" cy="351.57" r="6.06" fill="#2469b2"/>
<circle cx="210.44" cy="351.57" r="6.55" fill="#1e5fa9"/>
<circle cx="224.87" cy="351.57" r="6.55" fill="#1e5fa9"/>
<circle cx="239.30" cy="351.57" r="2.50" fill="#5397ce"/>
<circle cx="253.72" cy="351.57" r="6.55" fill="#1e5fa9"/>
<circle cx="268.15" cy="351.57" r="6.55" fill="#1a56a0"/>
<circle cx="282.59" cy="351.57" r="6.06" fill="#337ebf"/>
<circle cx="297.01" cy="351.57" r="5.24" fill="#559cd0"/>
<circle cx="311.44" cy="351.57" r="2.50" fill="#5397ce"/>
<circle cx="325.88" cy="351.57" r="6.06" fill="#2469b2"/>
<circle cx="340.31" cy="351.57" r="6.55" fill="#1e5fa9"/>
<circle cx="354.74" cy="351.57" r="6.06" fill="#2469b2"/>
<circle cx="369.16" cy="351.57" r="6.55" fill="#1a56a0"/>
<circle cx="383.60" cy="351.57" r="6.55" fill="#1a56a0"/>
<circle cx="398.02" cy="351.57" r="5.95" fill="#307abd"/>
<circle cx="412.45" cy="351.57" r="6.21" fill="#2469b2"/>
<circle cx="441.31" cy="351.57" r="2.50" fill="#78b2da"/>
<circle cx="455.75" cy="351.57" r="2.50" fill="#e57660"/>
<circle cx="470.18" cy="351.57" r="2.50" fill="#fee5d8"/>
<circle cx="152.72" cy="366.03" r="2.50" fill="#6aa8d5"/>
<circle cx="167.15" cy="366.03" r="5.05" fill="#4590ca"/>
<circle cx="181.57" cy="366.03" r="5.05" fill="#4590ca"/>
<circle cx="196.00" cy="366.03" r="2.50" fill="#5397ce"/>
<circle cx="210.44" cy="366.03" r="2.50" fill="#aed2e9"/>
<circle cx="224.87" cy="366.03" r="2.50" fill="#5b9dd1"/>
<circle cx="239.30" cy="366.03" r="2.50" fill="#cfe4f2"/>
<circle cx="253.72" cy="366.03" r="2.50" fill="#78b2da"/>
<circle cx="268.15" cy="366.03" r="2.50" fill="#5397ce"/>
<circle cx="282.59" cy="366.03" r="2.50" fill="#78b2da"/>
<circle cx="297.01" cy="366.03" r="2.50" fill="#5397ce"/>
<circle cx="311.44" cy="366.03" r="5.24" fill="#3b89c7"/>
<circle cx="325.88" cy="366.03" r="2.50" fill="#5b9dd1"/>
<circle cx="340.31" cy="366.03" r="2.50" fill="#8dc1e1"/>
<circle cx="354.74" cy="366.03" r="5.24" fill="#3b89c7"/>
<circle cx="369.16" cy="366.03" r="2.50" fill="#5b9dd1"/>
<circle cx="383.60" cy="366.03" r="2.50" fill="#78b2da"/>
<circle cx="398.02" cy="366.03" r="2.50" fill="#5b9dd1"/>
<circle cx="412.45" cy="366.03" r="2.50" fill="#6aa8d5"/>
<circle cx="426.88" cy="366.03" r="2.50" fill="#78b2da"/>
<circle cx="455.75" cy="366.03" r="2.50" fill="#e57660"/>
<circle cx="470.18" cy="366.03" r="2.50" fill="#e57660"/>
<circle cx="152.72" cy="380.50" r="2.50" fill="#e57660"/>
<circle cx="167.15" cy="380.50" r="2.50" fill="#e57660"/>
<circle cx="181.57" cy="380.50" r="4.85" fill="#e05c44"/>
<circle cx="196.00" cy="380.50" r="5.20" fill="#e05c44"/>
<circle cx="210.44" cy="380.50" r="2.50" fill="#f6b094"/>
<circle cx="224.87" cy="380.50" r="5.20" fill="#db5542"/>
<circle cx="239.30" cy="380.50" r="2.50" fill="#e57660"/>
<circle cx="253.72" cy="380.50" r="2.50" fill="#f4a588"/>
<circle cx="268.15" cy="380.50" r="5.00" fill="#e05c44"/>
<circle cx="282.59" cy="380.50" r="5.00" fill="#e05c44"/>
<circle cx="297.01" cy="380.50" r="2.50" fill="#e87f67"/>
<circle cx="311.44" cy="380.50" r="2.50" fill="#e87f67"/>
<circle cx="325.88" cy="380.50" r="2.50" fill="#f4a588"/>
<circle cx="340.31" cy="380.50" r="2.50" fill="#e87f67"/>
<circle cx="354.74" cy="380.50" r="5.20" fill="#db5542"/>
<circle cx="369.16" cy="380.50" r="5.20" fill="#d74e3f"/>
<circle cx="383.60" cy="380.50" r="5.20" fill="#e05c44"/>
<circle cx="398.02" cy="380.50" r="2.50" fill="#f4a588"/>
<circle cx="412.45" cy="380.50" r="2.50" fill="#f19c81"/>
<circle cx="426.88" cy="380.50" r="2.50" fill="#e57660"/>
<circle cx="441.31" cy="380.50" r="2.50" fill="#e57660"/>
<circle cx="470.18" cy="380.50" r="2.50" fill="#6aa8d5"/>
<circle cx="152.72" cy="394.98" r="2.50" fill="#f6b094"/>
<circle cx="167.15" cy="394.98" r="4.85" fill="#e05c44"/>
<circle cx="181.57" cy="394.98" r="2.50" fill="#f6b094"/>
<circle cx="196.00" cy="394.98" r="2.50" fill="#e87f67"/>
<circle cx="210.44" cy="394.98" r="2.27" fill="#feeae0"/>
<circle cx="224.87" cy="394.98" r="2.27" fill="#feeae0"/>
<circle cx="239.30" cy="394.98" r="2.08" fill="#fffaf7"/>
<circle cx="253.72" cy="394.98" r="2.08" fill="#fef1ea"/>
<circle cx="268.15" cy="394.98" r="2.50" fill="#e87f67"/>
<circle cx="282.59" cy="394.98" r="2.50" fill="#f9c4ac"/>
<circle cx="297.01" cy="394.98" r="2.50" fill="#e87f67"/>
<circle cx="311.44" cy="394.98" r="4.85" fill="#db5542"/>
<circle cx="325.88" cy="394.98" r="2.50" fill="#e87f67"/>
<circle cx="354.74" cy="394.98" r="2.50" fill="#e87f67"/>
<circle cx="369.16" cy="394.98" r="2.50" fill="#f4a588"/>
<circle cx="383.60" cy="394.98" r="2.27" fill="#fee5d8"/>
<circle cx="398.02" cy="394.98" r="2.50" fill="#e87f67"/>
<circle cx="412.45" cy="394.98" r="2.50" fill="#fee5d8"/>
<circle cx="426.88" cy="394.98" r="2.50" fill="#fee5d8"/>
<circle cx="441.31" cy="394.98" r="2.50" fill="#e57660"/>
<circle cx="455.75" cy="394.98" r="2.50" fill="#6aa8d5"/>
</g>
<g fill="none" stroke="#111" stroke-width="1.4">
<path d="M81 73.80H73.6V182.60H81"/>
<path d="M81 189.10H73.6V209.10H81"/>
<path d="M81 215.80H73.6V225.90H81"/>
<path d="M81 232.60H73.6V266.90H81"/>
<path d="M81 276.20H73.6V296.40H81"/>
<path d="M81 301.50H73.6V353.40H81"/>
<path d="M81 362.60H73.6V382.40H81"/>
<path d="M81 388.60H73.6V399.00H81"/>
</g>
<g font-size="8.75" fill="#222" stroke="#222" stroke-width="0.15">
<text x="2.6" y="125.00">respiratory chain</text>
<text x="2.6" y="136.00">complex I</text>
<text x="2.6" y="192.80">ATP synthase</text>
<text x="2.6" y="203.90">subunit</text>
<text x="2.6" y="219.60">respiratory chain</text>
<text x="2.6" y="230.40">complex II</text>
<text x="2.6" y="249.30">respiratory chain</text>
<text x="2.6" y="260.40">complex III</text>
<text x="2.6" y="284.00">cytochrome C</text>
<text x="2.6" y="294.60">oxidase</text>
<text x="2.6" y="329.40">proteasome</text>
<text x="2.6" y="371.00">microtubuli</text>
<text x="2.6" y="381.40">component</text>
<text x="2.6" y="396.40">unknown</text>
</g>
<defs><linearGradient id="cba" x1="0" y1="0" x2="0" y2="1">
<stop offset="0.00" stop-color="#0B3680"/>
<stop offset="0.10" stop-color="#2063AE"/>
<stop offset="0.20" stop-color="#3B89C7"/>
<stop offset="0.30" stop-color="#7DB8DD"/>
<stop offset="0.40" stop-color="#C8E0F0"/>
<stop offset="0.50" stop-color="#FFFFFF"/>
<stop offset="0.60" stop-color="#FDD8C4"/>
<stop offset="0.70" stop-color="#F4A07E"/>
<stop offset="0.80" stop-color="#E05C44"/>
<stop offset="0.90" stop-color="#B2182B"/>
<stop offset="1.00" stop-color="#67001F"/>
</linearGradient>
<linearGradient id="cbb" x1="0" y1="0" x2="0" y2="1"><stop offset="0" stop-color="#ff0000"/><stop offset="0.51" stop-color="#000000"/><stop offset="1" stop-color="#0000ff"/></linearGradient>
</defs>
<rect x="487.8" y="70.4" width="12.60" height="332.80" fill="url(#cba)" stroke="#999" stroke-width="0.7"/>
<g font-size="8.8" fill="#2a2a2a" stroke="#2a2a2a" stroke-width="0.08">
<line x1="500.40" y1="70.40" x2="502.40" y2="70.40" stroke="#555" stroke-width="0.7"/>
<text x="509.5" y="74.45">1.0</text>
<line x1="500.40" y1="103.68" x2="502.40" y2="103.68" stroke="#555" stroke-width="0.7"/>
<text x="509.5" y="107.60">0.8</text>
<line x1="500.40" y1="136.96" x2="502.40" y2="136.96" stroke="#555" stroke-width="0.7"/>
<text x="509.5" y="140.75">0.6</text>
<line x1="500.40" y1="170.24" x2="502.40" y2="170.24" stroke="#555" stroke-width="0.7"/>
<text x="509.5" y="173.90">0.4</text>
<line x1="500.40" y1="203.52" x2="502.40" y2="203.52" stroke="#555" stroke-width="0.7"/>
<text x="509.5" y="207.05">0.2</text>
<line x1="500.40" y1="236.80" x2="502.40" y2="236.80" stroke="#555" stroke-width="0.7"/>
<text x="509.5" y="240.20">0</text>
<line x1="500.40" y1="270.08" x2="502.40" y2="270.08" stroke="#555" stroke-width="0.7"/>
<text x="506.6" y="273.35">−0.2</text>
<line x1="500.40" y1="303.36" x2="502.40" y2="303.36" stroke="#555" stroke-width="0.7"/>
<text x="506.6" y="306.50">−0.4</text>
<line x1="500.40" y1="336.64" x2="502.40" y2="336.64" stroke="#555" stroke-width="0.7"/>
<text x="506.6" y="339.65">−0.6</text>
<line x1="500.40" y1="369.92" x2="502.40" y2="369.92" stroke="#555" stroke-width="0.7"/>
<text x="506.6" y="372.80">−0.8</text>
<line x1="500.40" y1="403.20" x2="502.40" y2="403.20" stroke="#555" stroke-width="0.7"/>
<text x="506.6" y="405.95">−1.0</text>
</g>
<text x="489.5" y="59.5" font-size="8.6" fill="#333"><tspan font-style="italic">R</tspan>-value</text>
<text x="2.5" y="431" font-size="14.5" font-weight="bold" fill="#000">b</text>
<rect x="96.3" y="430.6" width="10.70" height="105.90" fill="url(#cbb)"/>
<g font-size="8.9" fill="#333">
<line x1="96.3" y1="440.6" x2="107.0" y2="440.6" stroke="#000" stroke-opacity="0.25" stroke-width="0.6"/>
<text x="113.6" y="443.80">1.0</text>
<line x1="96.3" y1="462.3" x2="107.0" y2="462.3" stroke="#000" stroke-opacity="0.25" stroke-width="0.6"/>
<text x="113.6" y="465.50">0.5</text>
<line x1="96.3" y1="485.6" x2="107.0" y2="485.6" stroke="#000" stroke-opacity="0.25" stroke-width="0.6"/>
<text x="113.6" y="488.80">0</text>
<line x1="96.3" y1="506.5" x2="107.0" y2="506.5" stroke="#000" stroke-opacity="0.25" stroke-width="0.6"/>
<text x="112.6" y="509.70">−0.5</text>
<line x1="96.3" y1="528.7" x2="107.0" y2="528.7" stroke="#000" stroke-opacity="0.25" stroke-width="0.6"/>
<text x="112.6" y="531.90">−1.0</text>
</g>
<g font-size="9" fill="#333" text-anchor="middle">
<text transform="translate(69.2,489.2) rotate(-90)">Expressional changes of DET</text>
<text transform="translate(80.3,489.3) rotate(-90)">(Log<tspan font-size="6" dy="2">2</tspan><tspan dy="-2"> fold change)</tspan></text>
</g>
<rect x="146.00" y="521.7" width="14.73" height="14.20" fill="#0b0b80"/>
<rect x="160.43" y="521.7" width="14.73" height="14.20" fill="#0b0b80"/>
<rect x="174.85" y="521.7" width="14.73" height="14.20" fill="#1414b8"/>
<rect x="189.28" y="521.7" width="14.73" height="14.20" fill="#0a0a78"/>
<rect x="203.70" y="521.7" width="14.73" height="14.20" fill="#0c0c84"/>
<rect x="218.13" y="521.7" width="14.73" height="14.20" fill="#0c0c84"/>
<rect x="232.56" y="521.7" width="14.73" height="14.20" fill="#0c0c84"/>
<rect x="246.98" y="521.7" width="14.73" height="14.20" fill="#1010a0"/>
<rect x="261.41" y="521.7" width="14.73" height="14.20" fill="#0c0c88"/>
<rect x="275.83" y="521.7" width="14.73" height="14.20" fill="#0e0e98"/>
<rect x="290.26" y="521.7" width="14.73" height="14.20" fill="#0e0e90"/>
<rect x="304.69" y="521.7" width="14.73" height="14.20" fill="#0a0a7c"/>
<rect x="319.11" y="521.7" width="14.73" height="14.20" fill="#0c0c88"/>
<rect x="333.54" y="521.7" width="14.73" height="14.20" fill="#0c0c88"/>
<rect x="347.97" y="521.7" width="14.73" height="14.20" fill="#0a0a7c"/>
<rect x="362.39" y="521.7" width="14.73" height="14.20" fill="#0a0a7c"/>
<rect x="376.82" y="521.7" width="14.73" height="14.20" fill="#0a0a82"/>
<rect x="391.24" y="521.7" width="14.73" height="14.20" fill="#0c0c88"/>
<rect x="405.67" y="521.7" width="14.73" height="14.20" fill="#1414c0"/>
<rect x="420.10" y="521.7" width="14.73" height="14.20" fill="#0a0a7c"/>
<rect x="434.52" y="521.7" width="14.73" height="14.20" fill="#1212f0"/>
<rect x="448.95" y="521.7" width="14.73" height="14.20" fill="#c80c0c"/>
<rect x="463.37" y="521.7" width="14.73" height="14.20" fill="#c40a0a"/>
<g stroke="#000" stroke-opacity="0.3" stroke-width="0.5">
<line x1="160.43" y1="521.7" x2="160.43" y2="535.9"/>
<line x1="174.85" y1="521.7" x2="174.85" y2="535.9"/>
<line x1="189.28" y1="521.7" x2="189.28" y2="535.9"/>
<line x1="203.70" y1="521.7" x2="203.70" y2="535.9"/>
<line x1="218.13" y1="521.7" x2="218.13" y2="535.9"/>
<line x1="232.56" y1="521.7" x2="232.56" y2="535.9"/>
<line x1="246.98" y1="521.7" x2="246.98" y2="535.9"/>
<line x1="261.41" y1="521.7" x2="261.41" y2="535.9"/>
<line x1="275.83" y1="521.7" x2="275.83" y2="535.9"/>
<line x1="290.26" y1="521.7" x2="290.26" y2="535.9"/>
<line x1="304.69" y1="521.7" x2="304.69" y2="535.9"/>
<line x1="319.11" y1="521.7" x2="319.11" y2="535.9"/>
<line x1="333.54" y1="521.7" x2="333.54" y2="535.9"/>
<line x1="347.97" y1="521.7" x2="347.97" y2="535.9"/>
<line x1="362.39" y1="521.7" x2="362.39" y2="535.9"/>
<line x1="376.82" y1="521.7" x2="376.82" y2="535.9"/>
<line x1="391.24" y1="521.7" x2="391.24" y2="535.9"/>
<line x1="405.67" y1="521.7" x2="405.67" y2="535.9"/>
<line x1="420.10" y1="521.7" x2="420.10" y2="535.9"/>
<line x1="434.52" y1="521.7" x2="434.52" y2="535.9"/>
<line x1="448.95" y1="521.7" x2="448.95" y2="535.9"/>
<line x1="463.37" y1="521.7" x2="463.37" y2="535.9"/>
</g>
<g stroke="#333" stroke-width="0.6">
<line x1="153.21" y1="518.7" x2="153.21" y2="521.7"/>
<line x1="167.64" y1="518.7" x2="167.64" y2="521.7"/>
<line x1="182.07" y1="518.7" x2="182.07" y2="521.7"/>
<line x1="196.49" y1="518.7" x2="196.49" y2="521.7"/>
<line x1="210.92" y1="518.7" x2="210.92" y2="521.7"/>
<line x1="225.34" y1="518.7" x2="225.34" y2="521.7"/>
<line x1="239.77" y1="518.7" x2="239.77" y2="521.7"/>
<line x1="254.20" y1="518.7" x2="254.20" y2="521.7"/>
<line x1="268.62" y1="518.7" x2="268.62" y2="521.7"/>
<line x1="283.05" y1="518.7" x2="283.05" y2="521.7"/>
<line x1="297.47" y1="518.7" x2="297.47" y2="521.7"/>
<line x1="311.90" y1="518.7" x2="311.90" y2="521.7"/>
<line x1="326.33" y1="518.7" x2="326.33" y2="521.7"/>
<line x1="340.75" y1="518.7" x2="340.75" y2="521.7"/>
<line x1="355.18" y1="518.7" x2="355.18" y2="521.7"/>
<line x1="369.60" y1="518.7" x2="369.60" y2="521.7"/>
<line x1="384.03" y1="518.7" x2="384.03" y2="521.7"/>
<line x1="398.46" y1="518.7" x2="398.46" y2="521.7"/>
<line x1="412.88" y1="518.7" x2="412.88" y2="521.7"/>
<line x1="427.31" y1="518.7" x2="427.31" y2="521.7"/>
<line x1="441.73" y1="518.7" x2="441.73" y2="521.7"/>
<line x1="456.16" y1="518.7" x2="456.16" y2="521.7"/>
<line x1="470.59" y1="518.7" x2="470.59" y2="521.7"/>
<line x1="142.3" y1="529.1" x2="146.0" y2="529.1"/>
</g>
<g font-size="8.2" fill="#222" stroke="#222" stroke-width="0.06">
<text transform="translate(156.11,516.1) rotate(-90)">NDUFA2</text>
<text transform="translate(170.54,516.1) rotate(-90)">NDUFAB1</text>
<text transform="translate(184.97,516.1) rotate(-90)">NDUFB1</text>
<text transform="translate(199.39,516.1) rotate(-90)">NDUFB2</text>
<text transform="translate(213.82,516.1) rotate(-90)">NDUFB7</text>
<text transform="translate(228.24,516.1) rotate(-90)">NDUFC1</text>
<text transform="translate(242.67,516.1) rotate(-90)">NDUFC2</text>
<text transform="translate(257.10,516.1) rotate(-90)">NDUFC2-KCTD14</text>
<text transform="translate(271.52,516.1) rotate(-90)">ATP5PF</text>
<text transform="translate(285.95,516.1) rotate(-90)">ATP5F1E</text>
<text transform="translate(300.37,516.1) rotate(-90)">SDHA</text>
<text transform="translate(314.80,516.1) rotate(-90)">UQCRB</text>
<text transform="translate(329.23,516.1) rotate(-90)">UQCRQ</text>
<text transform="translate(343.65,516.1) rotate(-90)">UQCR11</text>
<text transform="translate(358.08,516.1) rotate(-90)">COX6C</text>
<text transform="translate(372.50,516.1) rotate(-90)">COX7B</text>
<text transform="translate(386.93,516.1) rotate(-90)">SEM1</text>
<text transform="translate(401.36,516.1) rotate(-90)">PSMA2</text>
<text transform="translate(415.78,516.1) rotate(-90)">PSMA3</text>
<text transform="translate(430.21,516.1) rotate(-90)">PSMA6</text>
<text transform="translate(444.63,516.1) rotate(-90)">TUBB6</text>
<text transform="translate(459.06,516.1) rotate(-90)">KIF5A</text>
<text transform="translate(473.49,516.1) rotate(-90)">AL133352.1</text>
</g>
</svg></body></html>
